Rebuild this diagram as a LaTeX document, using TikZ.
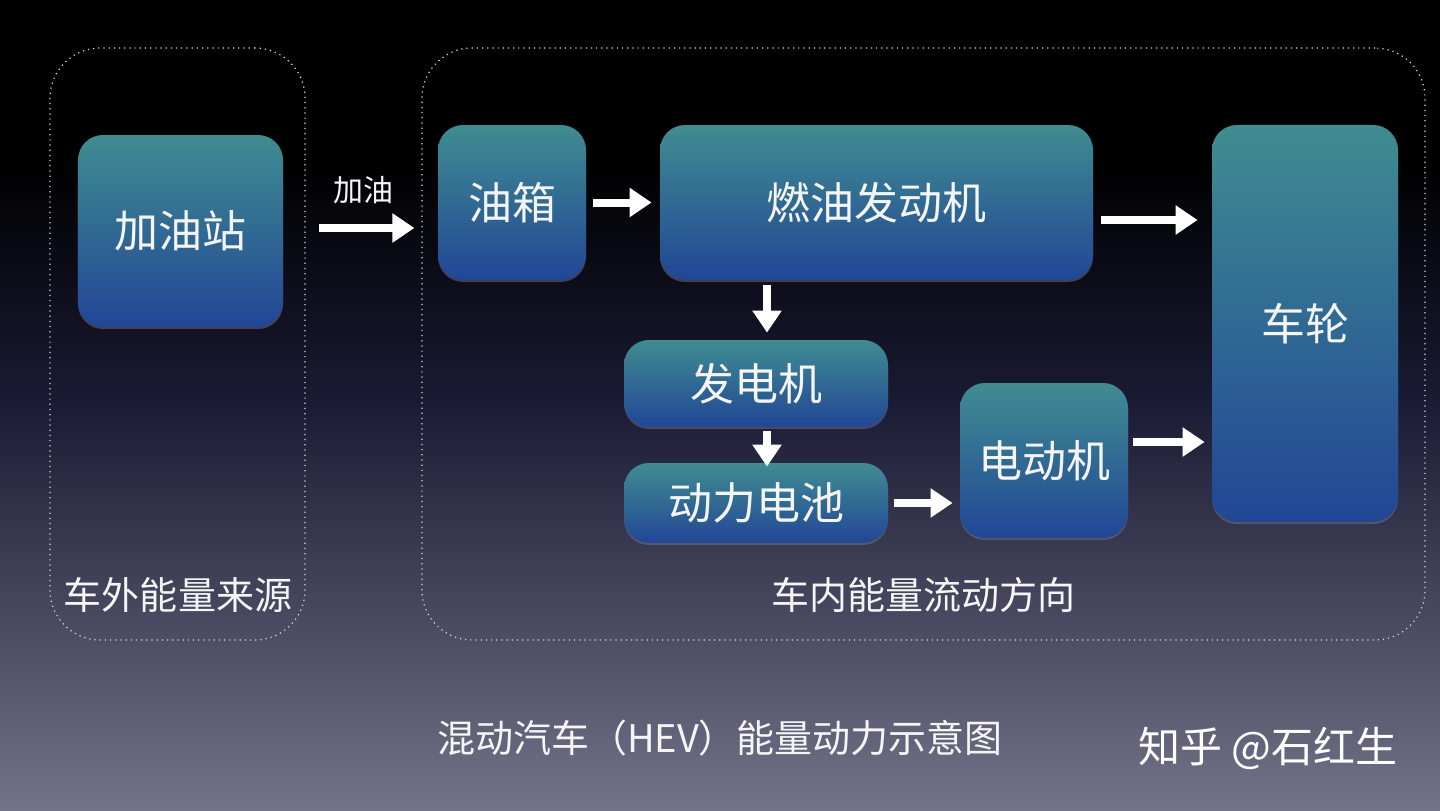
\documentclass[tikz,border=0pt]{standalone}
\usepackage{fontspec}
\setmainfont{Noto Sans CJK SC}
\usetikzlibrary{arrows.meta,calc,shadows}
\definecolor{bgnavy}{RGB}{26,26,52}
\definecolor{bggrey}{RGB}{114,114,136}
\definecolor{boxtop}{RGB}{64,140,145}
\definecolor{boxbot}{RGB}{33,70,150}
\definecolor{txt}{RGB}{245,245,245}
\begin{document}
\begin{tikzpicture}[x=0.5bp,y=-0.5bp,
  blk/.style={rounded corners=12.5bp, top color=boxtop, bottom color=boxbot, draw=none,
     drop shadow={opacity=0.45, shadow xshift=0bp, shadow yshift=-1bp},
     inner sep=0pt, text=txt, font=\fontsize{22bp}{26bp}\selectfont, align=center},
  cont/.style={rounded corners=25bp, draw=white!85!black, dotted, line width=0.6bp, inner sep=0pt},
  lbl/.style={text=txt, font=\fontsize{19bp}{23bp}\selectfont, inner sep=0pt},
  arr/.style={draw=white, line width=4bp, -{Triangle[width=14bp,length=11bp]}}]
% background
\useasboundingbox (0,0) rectangle (1440,810);
\fill[black] (0,0) rectangle (1440,810);
\shade[top color=black, bottom color=bgnavy] (0,160) rectangle (1440,400.5);
\shade[top color=bgnavy, bottom color=bggrey] (0,400) rectangle (1440,810);
% containers
\node[cont, minimum width=127.5bp, minimum height=296bp] (outer) at (177.5,344) {};
\node[cont, minimum width=501.5bp, minimum height=296bp] (inner) at (923.5,344) {};
\node[lbl] (outerlbl) at (178,595) {车外能量来源};
\node[lbl] (innerlbl) at (923,595) {车内能量流动方向};
% blocks
\node[blk, minimum width=102.5bp, minimum height=96bp] (station) at (180.5,231) {加油站};
\node[blk, minimum width=74bp, minimum height=77.5bp] (tank) at (512,202.5) {油箱};
\node[blk, minimum width=216.5bp, minimum height=77.5bp] (eng) at (876.5,202.5) {燃油发动机};
\node[blk, minimum width=93bp, minimum height=198.5bp] (wheel) at (1305,323.5) {车轮};
\node[blk, minimum width=132bp, minimum height=43.5bp] (gen) at (756,383.5) {发电机};
\node[blk, minimum width=132bp, minimum height=40bp] (bat) at (756,503) {动力电池};
\node[blk, minimum width=84bp, minimum height=77.5bp] (mot) at (1044,460.5) {电动机};
% arrows
\draw[arr, shorten <=6.5bp, shorten >=3.5bp] ([yshift=1.5bp]outer.east |- station.east) -- ([yshift=1.5bp]inner.west |- station.east)
   node[midway, above=10bp, lbl, font=\fontsize{15bp}{18bp}\selectfont] (reflabel) {加油};
\draw[arr, shorten <=3.5bp, shorten >=4bp] (tank.east) -- (eng.west);
\draw[arr, shorten <=4bp, shorten >=7bp] ([yshift=-8.75bp]eng.east) -- ([yshift=-8.75bp]eng.east -| wheel.west);
\draw[arr, shorten <=2.5bp, shorten >=3.5bp] ([xshift=5.5bp]gen.north |- eng.south) -- ([xshift=5.5bp]gen.north);
\draw[arr, shorten <=2bp, shorten >=-2bp] ([xshift=5.5bp]gen.south) -- ([xshift=5.5bp]bat.north);
\draw[arr, shorten <=3bp, shorten >=3.5bp] (bat.east) -- (bat.east -| mot.west);
\draw[arr, shorten <=2.5bp, shorten >=3.5bp] ([yshift=9.25bp]mot.east) -- ([yshift=9.25bp]mot.east -| wheel.west);
% title and watermark
\node[lbl] (title) at (720,738) {混动汽车（HEV）能量动力示意图};
\node[text=white, inner sep=0pt, font=\fontsize{21bp}{25bp}\selectfont] (mark) at (1268,748) {知乎 @石红生};
\end{tikzpicture}
\end{document}
